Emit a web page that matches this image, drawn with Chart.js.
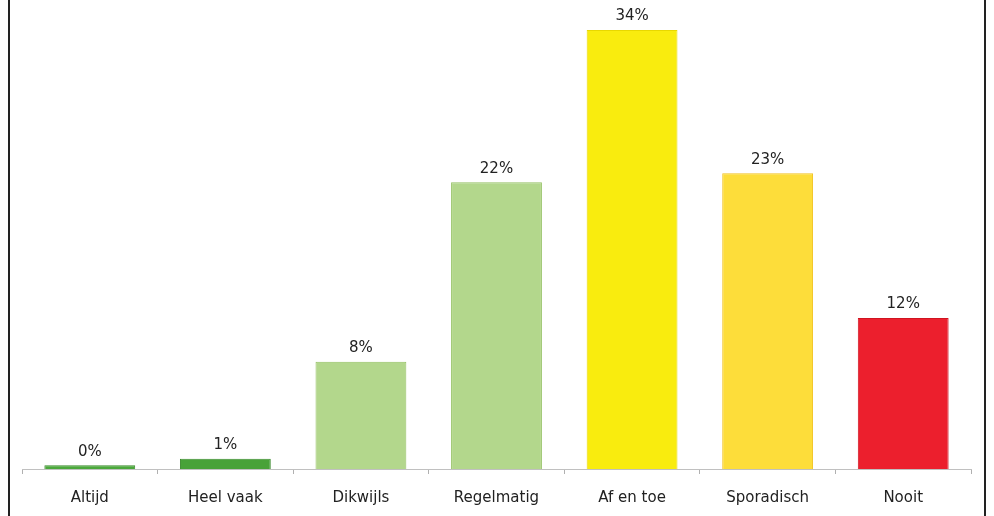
<!DOCTYPE html>
<html>
<head>
<meta charset="utf-8">
<script src="https://cdn.jsdelivr.net/npm/chart.js@4"></script>
<style>
  html, body { margin: 0; padding: 0; background: #fff; }
  #wrap { position: absolute; left: 0; top: 0; width: 994px; height: 516px; }
  #frame { position: absolute; left: 8px; top: 0; width: 974px; height: 516px;
           border-left: 2px solid #222; border-right: 2px solid #222; }
</style>
</head>
<body>
<div id="frame"></div>
<div id="wrap"><canvas id="myChart"></canvas></div>
<script>
const labels = ['Altijd', 'Heel vaak', 'Dikwijls', 'Regelmatig', 'Af en toe', 'Sporadisch', 'Nooit'];
const values = [0.3, 0.8, 8.3, 22.2, 34, 22.9, 11.7];
const shownPct = [0, 1, 8, 22, 34, 23, 12];
const fillColors = ['#4ba83b', '#48a238', '#b3d78c', '#b3d78c', '#f9ec0e', '#fddd3a', '#ec1f2d'];
const edgeColors = ['#3a8a2c', '#3a8a2c', '#93c062', '#93c062', '#e8d800', '#f2c21e', '#d01420'];

const ctx = document.getElementById('myChart');

// percentage above each bar
const pctLabels = {
    id: 'pctLabels',
    afterDatasetsDraw(chart) {
        const c = chart.ctx;
        const meta = chart.getDatasetMeta(0);
        c.save();
        c.font = '15px "DejaVu Sans", Verdana, sans-serif';
        c.fillStyle = '#222';
        c.textAlign = 'center';
        c.textBaseline = 'bottom';
        meta.data.forEach(function (bar, i) {
            c.fillText(shownPct[i] + '%', bar.x, bar.y - 6);
        });
        c.restore();
    }
};

new Chart(ctx, {
    type: 'bar',
    data: {
        labels: labels,
        datasets: [{
            data: values,
            backgroundColor: fillColors,
            borderColor: edgeColors,
            borderWidth: 1,
            categoryPercentage: 1,
            barPercentage: 0.67,
        }],
    },
    options: {
        responsive: true,
        maintainAspectRatio: false,
        animation: false,
        layout: {
            padding: { left: 22, right: 23, top: 30, bottom: -6 },
        },
        scales: {
            y: {
                display: false,
                min: 0,
                max: 34,
            },
            x: {
                border: { color: '#c0c0c0', width: 1 },
                grid: {
                    offset: true,
                    drawOnChartArea: false,
                    tickLength: 5,
                    color: '#b0b0b0',
                },
                ticks: {
                    color: '#222',
                    padding: 15,
                    font: {
                        family: '"DejaVu Sans", Verdana, sans-serif',
                        size: 15,
                    },
                },
            },
        },
        plugins: {
            legend: { display: false },
            tooltip: { enabled: false },
        },
    },
    plugins: [pctLabels],
});
</script>
</body>
</html>
